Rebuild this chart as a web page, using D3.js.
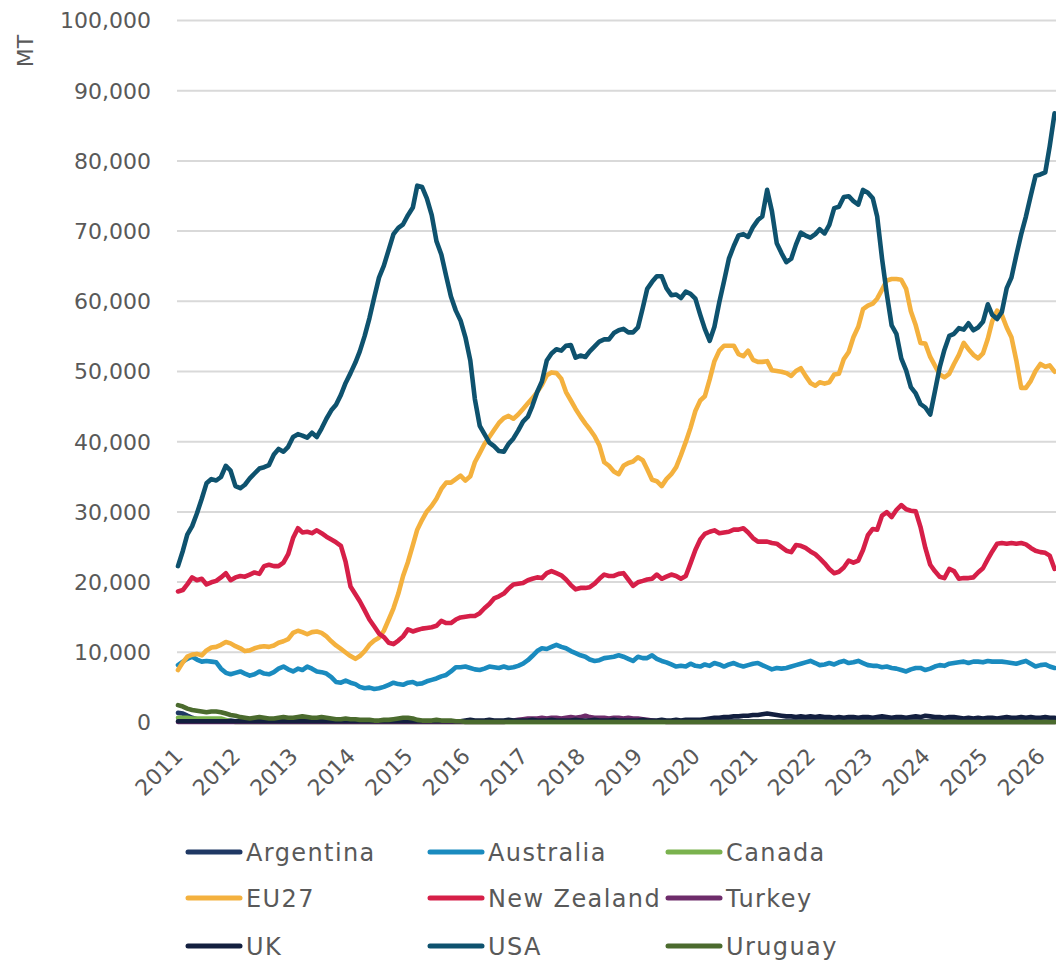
<!DOCTYPE html>
<html><head><meta charset="utf-8">
<script src="https://cdn.jsdelivr.net/npm/d3@7"></script>
<style>body{margin:0;background:#fff}svg{display:block}</style>
</head><body><svg id="c" width="1056" height="963"></svg>
<script>
// Monthly values, thousand MT, Jan 2011 .. Apr 2026
const startYear = 2011;
const monthCount = 184;
const seriesNames = ["Argentina","Australia","Canada","EU27","New Zealand","Turkey","UK","USA","Uruguay"];
const seriesColors = ["#1f3864","#1a8bbf","#7ab24e","#f4b13e","#d61f48","#6e2c6b","#131f3f","#0e526e","#4b6b2e"];
const yTickValues = [0,10,20,30,40,50,60,70,80,90,100];
const xTickYears = [2011,2012,2013,2014,2015,2016,2017,2018,2019,2020,2021,2022,2023,2024,2025,2026];

const argentina = [
1.3,1.2,0.9,0.6,0.4,0.3,0.3,0.2,0.2,0.2,0.2,0.2,
0.1,0.1,0.1,0.1,0.1,0.1,0.1,0.1,0.1,0.1,0.1,0.1,
0.1,0.1,0.1,0.1,0.1,0.1,0.1,0.1,0.1,0.1,0.1,0.1,
0.1,0.1,0.1,0.1,0.1,0.1,0.1,0.1,0.1,0.1,0.1,0.1,
0.1,0.1,0.1,0.1,0.1,0.1,0.1,0.1,0.1,0.1,0.1,0.1,
0.1,0.1,0.1,0.1,0.1,0.1,0.1,0.1,0.1,0.1,0.1,0.1,
0.1,0.1,0.1,0.1,0.1,0.1,0.1,0.1,0.1,0.1,0.1,0.1,
0.1,0.1,0.1,0.1,0.1,0.1,0.1,0.1,0.1,0.1,0.1,0.1,
0.1,0.1,0.1,0.1,0.1,0.1,0.1,0.1,0.1,0.1,0.1,0.1,
0.1,0.1,0.1,0.1,0.1,0.1,0.1,0.1,0.1,0.1,0.1,0.1,
0.1,0.1,0.1,0.1,0.1,0.1,0.1,0.1,0.1,0.1,0.1,0.1,
0.1,0.1,0.1,0.1,0.1,0.1,0.1,0.1,0.1,0.1,0.1,0.1,
0.1,0.1,0.1,0.1,0.1,0.1,0.1,0.1,0.1,0.1,0.1,0.1,
0.1,0.1,0.1,0.1,0.1,0.1,0.1,0.1,0.1,0.1,0.1,0.1,
0.1,0.1,0.1,0.1,0.1,0.1,0.1,0.1,0.1,0.1,0.1,0.1,
0.1,0.1,0.1,0.1];

const australia = [
8.1,8.6,9.0,9.3,8.9,8.6,8.7,8.6,8.5,7.6,7.0,6.8,
7.0,7.2,6.9,6.6,6.8,7.2,6.9,6.8,7.1,7.6,7.9,7.5,
7.2,7.6,7.4,7.9,7.6,7.2,7.1,6.9,6.4,5.7,5.6,5.9,
5.6,5.4,5.0,4.8,4.9,4.7,4.8,5.0,5.3,5.6,5.4,5.3,
5.6,5.7,5.4,5.5,5.8,6.0,6.2,6.5,6.7,7.2,7.8,7.8,
7.9,7.7,7.5,7.4,7.6,7.9,7.8,7.7,7.9,7.7,7.8,8.0,
8.3,8.8,9.4,10.1,10.5,10.4,10.7,11.0,10.7,10.5,10.1,9.8,
9.5,9.3,8.9,8.7,8.8,9.1,9.2,9.3,9.5,9.3,9.0,8.7,
9.3,9.1,9.1,9.5,9.0,8.7,8.5,8.2,7.9,8.0,7.9,8.3,
8.0,7.9,8.2,8.0,8.4,8.2,7.9,8.2,8.4,8.1,7.9,8.1,
8.3,8.4,8.1,7.8,7.5,7.7,7.6,7.7,7.9,8.1,8.3,8.5,
8.7,8.4,8.1,8.2,8.4,8.2,8.5,8.7,8.4,8.5,8.7,8.4,
8.1,8.0,8.0,7.8,7.9,7.7,7.6,7.4,7.2,7.5,7.7,7.7,
7.4,7.6,7.9,8.1,8.0,8.3,8.4,8.5,8.6,8.4,8.6,8.6,
8.5,8.7,8.6,8.6,8.6,8.5,8.4,8.3,8.5,8.7,8.3,7.9,
8.1,8.2,7.9,7.7];

const canada = [
0.6,0.6,0.6,0.5,0.5,0.5,0.5,0.5,0.5,0.5,0.3,0.1,
0,0,0,0,0,0,0,0,0,0,0,0,
0,0,0,0,0,0,0,0,0,0,0,0,
0,0,0,0,0,0,0,0,0,0,0,0,
0,0,0,0,0,0,0,0,0,0,0,0,
0,0,0,0,0,0,0,0,0,0,0,0,
0,0,0,0,0,0,0,0,0,0,0,0,
0,0,0,0,0,0,0,0,0,0,0,0,
0,0,0,0,0,0,0,0,0,0,0,0,
0,0,0,0,0,0,0,0,0,0,0,0,
0,0,0,0,0,0,0,0,0,0,0,0,
0,0,0,0,0,0,0,0,0,0,0,0,
0,0,0,0,0,0,0,0,0,0,0,0,
0,0,0,0,0,0,0,0,0,0,0,0,
0,0,0,0,0,0,0,0,0,0,0,0,
0,0,0,0];

const eu27 = [
7.4,8.5,9.3,9.6,9.7,9.5,10.2,10.6,10.7,11.0,11.4,11.2,
10.8,10.5,10.1,10.2,10.5,10.7,10.8,10.7,10.9,11.3,11.5,11.8,
12.7,13.0,12.8,12.5,12.8,12.9,12.7,12.2,11.5,10.9,10.4,9.9,
9.4,9.0,9.4,10.1,11.0,11.6,12.0,13.0,14.6,16.2,18.3,20.8,
22.8,25.2,27.4,28.8,30.0,30.8,31.8,33.2,34.1,34.1,34.6,35.1,
34.4,35.0,37.0,38.3,39.6,40.6,41.6,42.6,43.3,43.6,43.2,43.8,
44.6,45.4,46.1,47.0,48.0,49.4,49.8,49.7,48.9,47.0,45.8,44.6,
43.5,42.5,41.7,40.7,39.4,37.0,36.5,35.7,35.3,36.5,36.9,37.1,
37.7,37.3,36.0,34.5,34.3,33.6,34.6,35.3,36.3,38.0,39.9,41.9,
44.3,45.8,46.4,48.8,51.4,52.9,53.6,53.6,53.6,52.4,52.1,52.9,
51.6,51.3,51.3,51.4,50.1,50.0,49.9,49.7,49.3,50.0,50.4,49.3,
48.3,47.9,48.4,48.2,48.4,49.5,49.6,51.7,52.7,54.8,56.3,58.8,
59.3,59.6,60.3,61.6,62.9,63.1,63.1,63.0,61.7,58.5,56.5,54.0,
53.9,52.0,50.8,49.5,49.1,49.6,51.0,52.3,54.0,53.1,52.3,51.8,
52.5,54.6,57.1,58.6,58.0,56.2,54.8,51.5,47.6,47.6,48.6,50.0,
51.0,50.6,50.8,49.9];

const newZealand = [
18.6,18.8,19.6,20.6,20.2,20.4,19.6,19.9,20.1,20.6,21.2,20.2,
20.6,20.8,20.7,21.0,21.3,21.1,22.2,22.4,22.2,22.2,22.7,23.9,
26.2,27.6,27.0,27.1,26.9,27.3,26.9,26.4,26.0,25.6,25.1,22.8,
19.3,18.2,17.2,15.9,14.6,13.6,12.6,12.1,11.3,11.1,11.6,12.2,
13.2,12.9,13.1,13.3,13.4,13.5,13.7,14.4,14.1,14.1,14.6,14.9,
15.0,15.1,15.1,15.5,16.2,16.8,17.6,17.9,18.3,19.0,19.6,19.7,
19.8,20.2,20.4,20.6,20.5,21.2,21.5,21.2,20.9,20.3,19.5,18.9,
19.1,19.1,19.2,19.7,20.4,21.0,20.8,20.8,21.1,21.2,20.3,19.4,
19.9,20.1,20.3,20.4,21.0,20.4,20.7,21.0,20.8,20.4,20.8,22.6,
24.5,26.0,26.8,27.1,27.3,26.9,27.0,27.1,27.4,27.4,27.6,27.0,
26.2,25.7,25.7,25.7,25.5,25.4,24.9,24.4,24.2,25.2,25.1,24.8,
24.3,23.9,23.3,22.6,21.8,21.2,21.4,22.0,23.0,22.7,23.0,24.5,
26.6,27.5,27.4,29.4,29.9,29.2,30.2,30.9,30.3,30.1,30.0,27.8,
24.8,22.4,21.5,20.7,20.5,21.8,21.5,20.4,20.5,20.5,20.6,21.3,
21.9,23.2,24.3,25.4,25.5,25.4,25.5,25.4,25.5,25.3,24.8,24.4,
24.2,24.1,23.7,21.8];

const turkey = [
0,0,0,0,0,0,0,0,0,0,0,0,
0,0,0,0,0,0,0,0,0,0,0,0,
0,0,0,0,0,0,0,0,0,0,0,0,
0,0,0,0,0,0,0,0,0,0,0,0,
0,0,0,0,0,0,0,0,0,0,0,0,
0,0,0,0,0,0,0,0,0,0.1,0.2,0.3,
0.4,0.5,0.5,0.5,0.6,0.5,0.6,0.6,0.5,0.6,0.7,0.6,
0.7,0.9,0.7,0.6,0.6,0.6,0.5,0.6,0.6,0.5,0.6,0.5,
0.5,0.4,0.3,0.2,0.1,0.1,0,0,0,0,0,0,
0,0,0,0,0,0,0,0,0,0,0,0,
0,0,0,0,0,0,0,0,0,0,0,0,
0,0,0,0,0,0,0,0,0,0,0,0,
0,0,0,0,0,0,0,0,0,0,0,0,
0,0,0,0,0,0,0,0,0,0,0,0,
0,0,0,0,0,0,0,0,0,0,0,0,
0,0,0,0];

const uk = [
0.1,0.1,0.1,0.1,0.1,0.1,0.1,0.1,0.1,0.1,0.1,0.1,
0.1,0.1,0.1,0.1,0.1,0.1,0.1,0.1,0.1,0.1,0.1,0.1,
0.1,0.1,0.1,0.1,0.1,0.1,0.1,0.1,0.1,0.1,0.1,0.1,
0.1,0.1,0.1,0.1,0.1,0.1,0.1,0.1,0.1,0.1,0.1,0.1,
0.1,0.1,0.1,0.1,0.1,0.1,0.1,0.1,0.1,0.1,0.1,0.1,
0.2,0.3,0.2,0.2,0.2,0.3,0.2,0.2,0.2,0.3,0.2,0.2,
0.2,0.2,0.3,0.2,0.2,0.2,0.3,0.2,0.2,0.2,0.2,0.3,
0.2,0.2,0.2,0.3,0.2,0.2,0.2,0.3,0.2,0.2,0.2,0.2,
0.2,0.3,0.2,0.2,0.2,0.3,0.2,0.2,0.3,0.2,0.3,0.3,
0.3,0.3,0.4,0.5,0.6,0.6,0.7,0.7,0.8,0.8,0.9,0.9,
1.0,1.0,1.1,1.2,1.1,1.0,0.9,0.8,0.8,0.7,0.8,0.7,
0.8,0.7,0.8,0.7,0.7,0.6,0.7,0.6,0.7,0.7,0.6,0.7,
0.7,0.6,0.7,0.8,0.7,0.6,0.7,0.7,0.6,0.7,0.8,0.7,
0.9,0.8,0.7,0.7,0.6,0.7,0.7,0.6,0.5,0.6,0.5,0.6,
0.5,0.6,0.6,0.5,0.6,0.7,0.6,0.6,0.7,0.6,0.7,0.6,
0.6,0.7,0.6,0.6];

const usa = [
22.2,24.4,26.7,27.9,29.7,31.8,34.0,34.6,34.4,34.9,36.5,35.8,
33.6,33.3,33.8,34.7,35.4,36.1,36.3,36.6,38.1,38.9,38.5,39.2,
40.6,41.0,40.8,40.5,41.2,40.6,41.8,43.2,44.4,45.2,46.6,48.3,
49.7,51.2,52.8,55.0,57.5,60.5,63.3,65.0,67.3,69.5,70.4,70.9,
72.2,73.3,76.4,76.2,74.6,72.2,68.5,66.6,63.5,60.6,58.6,57.2,
54.8,51.5,46.0,42.2,41.0,39.8,39.3,38.6,38.5,39.6,40.4,41.5,
42.8,43.5,45.0,47.0,48.5,51.5,52.5,53.1,52.9,53.6,53.7,51.9,
52.2,52.0,52.8,53.5,54.2,54.5,54.5,55.4,55.8,56.0,55.5,55.5,
56.2,59.0,61.7,62.7,63.5,63.5,61.8,60.8,60.9,60.4,61.3,61.0,
60.3,58.0,56.0,54.3,56.3,59.8,62.8,66.0,67.8,69.3,69.5,69.1,
70.5,71.5,72.0,75.8,72.8,68.2,66.8,65.5,66.0,68.0,69.7,69.3,
69.0,69.5,70.2,69.6,70.8,73.2,73.4,74.8,74.9,74.2,73.7,75.8,
75.4,74.6,72.0,66.0,61.0,56.5,55.3,51.8,50.1,47.7,46.8,45.3,
44.8,43.8,47.0,50.5,53.0,55.0,55.3,56.1,55.9,56.8,55.8,56.2,
57.0,59.5,58.0,57.4,58.4,61.8,63.3,66.5,69.5,72.0,75.0,77.8,
78.0,78.3,82.0,86.7];

const uruguay = [
2.4,2.2,1.9,1.7,1.6,1.5,1.4,1.5,1.5,1.4,1.2,1.0,
0.9,0.7,0.6,0.5,0.6,0.7,0.6,0.5,0.5,0.6,0.7,0.6,
0.6,0.7,0.8,0.7,0.6,0.6,0.7,0.6,0.5,0.4,0.4,0.5,
0.4,0.4,0.3,0.3,0.3,0.2,0.2,0.3,0.3,0.4,0.5,0.6,
0.6,0.5,0.3,0.2,0.2,0.2,0.3,0.2,0.2,0.2,0.1,0.1,
0,0,0,0,0,0,0,0,0,0,0,0,
0,0,0,0,0,0,0,0,0,0,0,0,
0,0,0,0,0,0,0,0,0,0,0,0,
0,0,0,0,0,0,0,0,0,0,0,0,
0,0,0,0,0,0,0,0,0,0,0,0,
0,0,0,0,0,0,0,0,0,0,0,0,
0,0,0,0,0,0,0,0,0,0,0,0,
0,0,0,0,0,0,0,0,0,0,0,0,
0,0,0,0,0,0,0,0,0,0,0,0,
0,0,0,0,0,0,0,0,0,0,0,0,
0,0,0,0];

const seriesValues = [argentina, australia, canada, eu27, newZealand, turkey, uk, usa, uruguay];
const months = d3.range(monthCount).map(i => new Date(startYear, i, 1));

const svg = d3.select("#c");
const font = "'DejaVu Sans', sans-serif";
const textColor = "#595959";

const x = d3.scaleTime()
  .domain([new Date(2011, 0, 1), new Date(2026, 0, 1)])
  .range([178, 1040.4]);
const y = d3.scaleLinear().domain([0, 100]).range([722, 20]);

// gridlines
svg.append("g")
  .attr("transform", "translate(177,0)")
  .call(d3.axisLeft(y).tickValues(yTickValues).tickSize(-879).tickFormat(""))
  .call(g => g.select(".domain").remove())
  .call(g => g.selectAll("line").attr("stroke", "#d9d9d9").attr("stroke-width", 2));

// y axis labels
svg.append("g")
  .attr("transform", "translate(177,0)")
  .call(d3.axisLeft(y).tickValues(yTickValues).tickSize(0).tickPadding(26)
    .tickFormat(d => d3.format(",")(d * 1000)))
  .call(g => g.select(".domain").remove())
  .call(g => g.selectAll("text")
    .attr("fill", textColor).style("font-family", font).style("font-size", "22px")
    .attr("dy", "0.36em"));

// y title
svg.append("text")
  .attr("transform", "translate(33,51) rotate(-90)")
  .attr("text-anchor", "middle")
  .attr("fill", textColor).style("font-family", font).style("font-size", "22px")
  .text("MT");

// x axis labels
svg.append("g")
  .attr("transform", "translate(0,752)")
  .call(d3.axisBottom(x).tickValues(xTickYears.map(yr => new Date(yr, 0, 1)))
    .tickSize(0).tickFormat(d3.timeFormat("%Y")))
  .call(g => g.select(".domain").remove())
  .call(g => g.selectAll("text")
    .attr("x", 0).attr("y", 0).attr("dy", "0.36em")
    .attr("text-anchor", "end")
    .attr("transform", "rotate(-45)")
    .attr("fill", textColor).style("font-family", font).style("font-size", "22px"));

// lines
const line = d3.line()
  .x((d, i) => x(months[i]))
  .y(d => y(d));

seriesValues.forEach((vals, k) => {
  svg.append("path")
    .datum(vals)
    .attr("d", line)
    .attr("fill", "none")
    .attr("stroke", seriesColors[k])
    .attr("stroke-width", 4.6)
    .attr("stroke-linejoin", "round")
    .attr("stroke-linecap", "round");
});

// legend
const legCols = [188, 430, 668];
const legRows = [852, 898, 946];
const leg = svg.append("g");
seriesNames.forEach((name, k) => {
  const lx = legCols[k % 3], ly = legRows[Math.floor(k / 3)];
  leg.append("line")
    .attr("x1", lx).attr("x2", lx + 52).attr("y1", ly).attr("y2", ly)
    .attr("stroke", seriesColors[k]).attr("stroke-width", 5).attr("stroke-linecap", "round");
  leg.append("text")
    .attr("x", lx + 58).attr("y", ly).attr("dy", "0.36em")
    .attr("fill", textColor).style("font-family", font).style("font-size", "24px")
    .style("letter-spacing", "1.4px")
    .text(name);
});
</script>
</body></html>
